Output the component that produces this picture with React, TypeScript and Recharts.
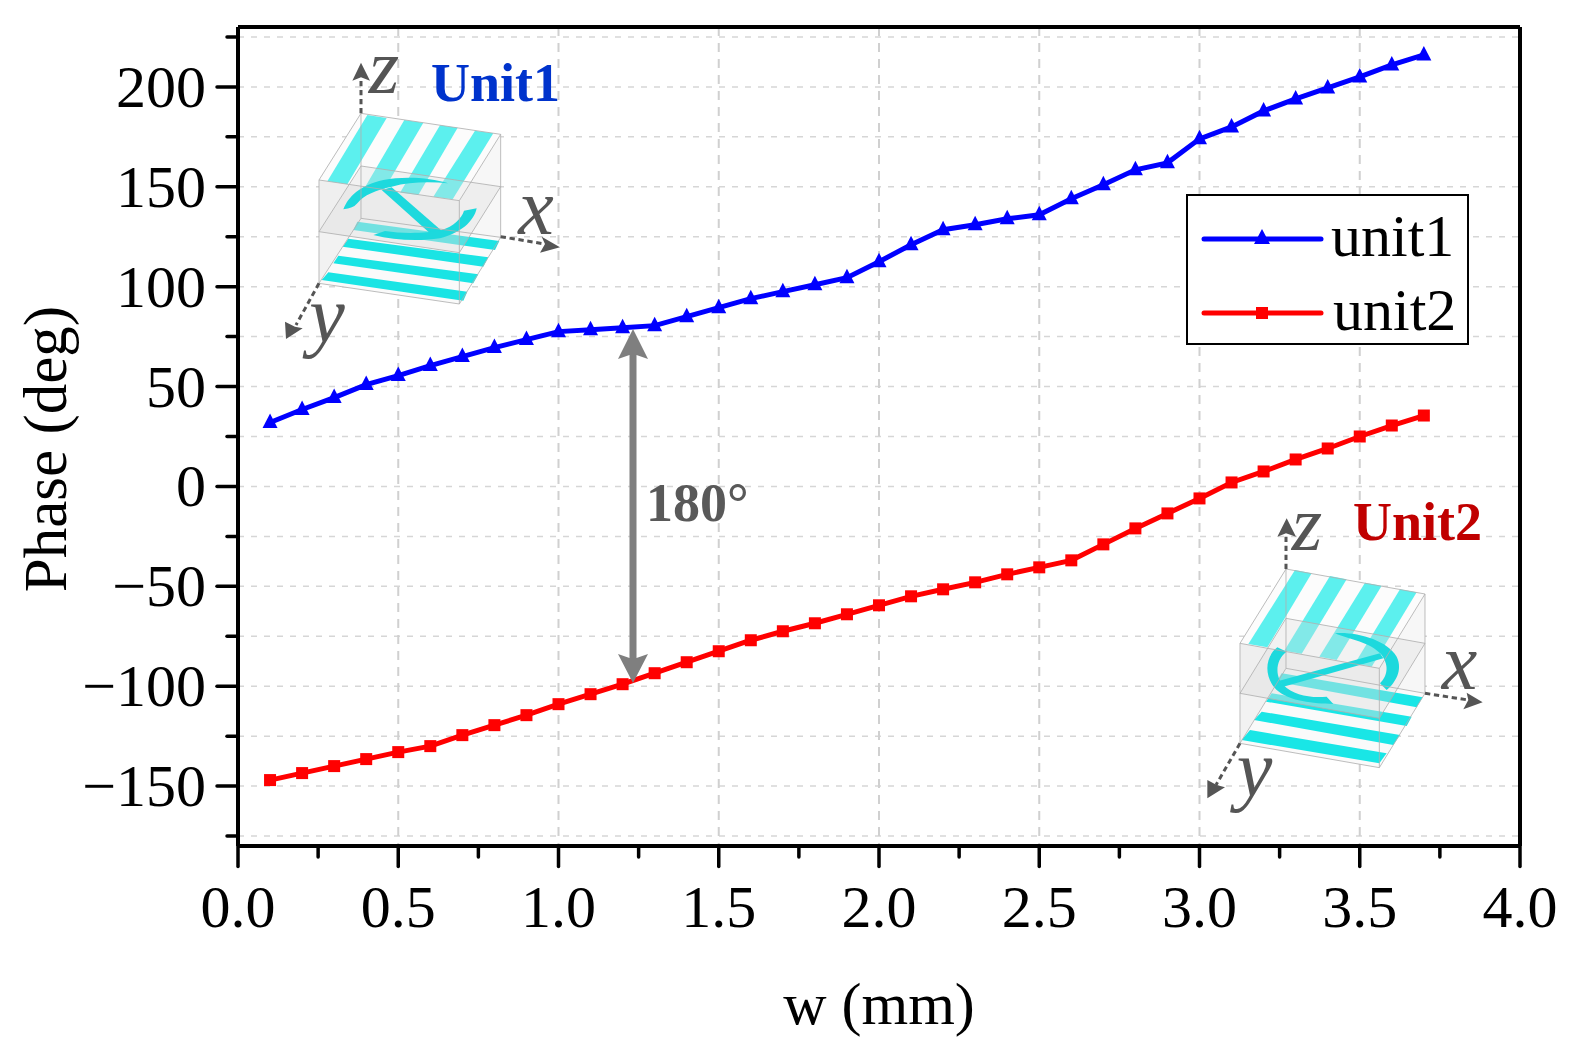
import React from 'react';
import { LineChart, Line, XAxis, YAxis, CartesianGrid, ReferenceLine, Legend } from 'recharts';

const widths = [0.1,0.2,0.3,0.4,0.5,0.6,0.7,0.8,0.9,1.0,1.1,1.2,1.3,1.4,1.5,1.6,1.7,1.8,1.9,2.0,2.1,2.2,2.3,2.4,2.5,2.6,2.7,2.8,2.9,3.0,3.1,3.2,3.3,3.4,3.5,3.6,3.7];
const unit1 = [32,38.5,44.5,51,55.5,60.5,65,69.5,73.5,77.5,78.5,79.5,80.5,85,89.5,94,97.5,101,104.5,112.5,121,128.5,131,134,136,144,151,158.5,162,174,180,188,194,199.5,205,211,216];
const unit2 = [-147,-143.5,-140,-136.5,-133,-130,-124.5,-119.5,-114.5,-109,-104,-99,-93.5,-88,-82.5,-77,-72.5,-68.5,-64,-59.5,-55,-51.5,-48,-44,-40.5,-37,-29,-21,-13.5,-6,2,7.5,13.5,19,25,30.5,35.5];
const xTicks = [0,0.25,0.5,0.75,1,1.25,1.5,1.75,2,2.25,2.5,2.75,3,3.25,3.5,3.75,4];
const xGrid = [0.5,1,1.5,2,2.5,3,3.5];
const yTicks = [-175,-150,-125,-100,-75,-50,-25,0,25,50,75,100,125,150,175,200,225];
const yMajor = [-150,-100,-50,0,50,100,150,200];
const legendNames = ['unit1', 'unit2'];

const rows = widths.map((w, i) => ({ w, unit1: unit1[i], unit2: unit2[i] }));
const FONT = '"Liberation Serif", serif';

const Tri = (p: any) => <polygon key={p.index} points={`${p.cx},${p.cy - 9} ${p.cx + 7.5},${p.cy + 5.5} ${p.cx - 7.5},${p.cy + 5.5}`} fill="#0000ff" />;
const Sq = (p: any) => <rect key={p.index} x={p.cx - 6} y={p.cy - 6} width={12} height={12} fill="#ff0000" />;

const XTick = (p: any) => {
  const v = p.payload.value;
  const major = Math.abs(v * 2 - Math.round(v * 2)) < 1e-6;
  return (
    <g>
      <line x1={p.x} x2={p.x} y1={846} y2={major ? 866.5 : 857} stroke="#000" strokeWidth={3.5} strokeLinecap="round" />
      {major && <text x={p.x} y={927} textAnchor="middle" fontFamily={FONT} fontSize={60} fill="#000">{v.toFixed(1)}</text>}
    </g>
  );
};

const YTick = (p: any) => {
  const v = p.payload.value;
  const major = yMajor.includes(v);
  return (
    <g>
      <line x1={238} x2={major ? 217 : 227} y1={p.y} y2={p.y} stroke="#000" strokeWidth={3.5} strokeLinecap="round" />
      {major && <text x={206} y={p.y + 20} textAnchor="end" fontFamily={FONT} fontSize={60} fill="#000">{v < 0 ? `\u2212${-v}` : v}</text>}
    </g>
  );
};

const LegendBox = () => (
  <svg width={283} height={151} style={{ display: 'block', background: '#fff', border: '2.5px solid #000', boxSizing: 'border-box' }}>
    {legendNames.map((n, i) => {
      const y = i === 0 ? 43 : 117;
      const c = i === 0 ? '#0000ff' : '#ff0000';
      return (
        <g key={n}>
          <line x1={16} x2={133} y1={y} y2={y} stroke={c} strokeWidth={5} strokeLinecap="round" />
          {i === 0 ? <polygon points={`74,${y - 10} 82,${y + 5} 66,${y + 5}`} fill={c} /> : <rect x={68} y={y - 6} width={12} height={12} fill={c} />}
          <text x={i === 0 ? 143 : 145} y={i === 0 ? 60 : 134} fontFamily={FONT} fontSize={60} fill="#000">{n}</text>
        </g>
      );
    })}
  </svg>
);

const Stripes = ({ list, fill }: { list: string[]; fill: string }) => (
  <>{list.map((s) => <polygon key={s} points={s} fill={fill} />)}</>
);

const AxisGlyphs = ({ lines, heads }: { lines: number[][]; heads: string[] }) => (
  <>
    {lines.map((l) => <line key={l.join()} x1={l[0]} y1={l[1]} x2={l[2]} y2={l[3]} stroke="#555" strokeWidth={9} strokeDasharray="16 11" />)}
    {heads.map((h) => <polygon key={h} points={h} fill="#555" />)}
  </>
);

const Glyph = ({ x, y, size, t }: { x: number; y: number; size: number; t: string }) => (
  <text x={x} y={y} fontFamily={FONT} fontStyle="italic" fontSize={size} fill="#555">{t}</text>
);

const boxEdge = '#b0b0b0';

const Inset1 = () => (
  <g transform="translate(270,40) scale(0.33333)">
    <polygon points="273,220 692,283 692,592 273,535" fill="#f7f7f7" />
    <polygon points="273,220 147,420 147,730 273,535" fill="#f2f2f2" />
    <polygon points="273,220 692,283 568,482 147,420" fill="#fcfcfc" />
    <Stripes fill="#5cf0ee" list={['292,225 350,234 232,433 172,424', '403,240 460,248 342,449 285,442', '510,256 563,263 445,465 390,458', '615,272 670,280 548,478 490,470']} />
    <polygon points="147,730 273,535 692,592 568,792" fill="#fafafa" />
    <Stripes fill="#1ae4e4" list={['175,697 155,720 580,782 592,755', '205,647 190,670 610,730 625,703', '235,596 218,620 640,680 655,652', '262,545 250,570 675,630 688,603']} />
    <polygon points="147,420 568,482 568,638 147,575" fill="#e2e2e2" opacity={0.22} />
    <polygon points="147,575 273,378 692,440 568,638" fill="#dcdcdc" opacity={0.3} />
    <path d="M220,508 C235,470 270,435 340,420 C400,408 480,412 535,430 C480,425 420,425 365,440 C320,450 280,465 262,490 Q250,505 220,508 Z" fill="#1dd9dd" />
    <polygon points="335,450 365,442 515,572 480,580" fill="#1dd9dd" />
    <path d="M620,505 C612,545 570,580 510,595 C440,605 370,600 310,585 L345,573 C400,582 470,580 515,570 C550,560 575,535 582,512 Z" fill="#1dd9dd" />
    <g fill="none" stroke={boxEdge} strokeWidth={2.5}>
      <polygon points="273,220 692,283 568,482 147,420" />
      <polygon points="147,575 273,378 692,440 568,638" />
      <polygon points="147,730 273,535 692,592 568,792" />
      <line x1={147} y1={420} x2={147} y2={730} />
      <line x1={568} y1={482} x2={568} y2={792} />
      <line x1={692} y1={283} x2={692} y2={592} />
      <line x1={273} y1={220} x2={273} y2={535} />
    </g>
    <AxisGlyphs
      lines={[[273, 220, 273, 115], [692, 590, 825, 612], [147, 730, 78, 855]]}
      heads={['273,68 247,122 273,112 300,122', '870,622 810,638 825,612 815,590', '48,897 45,845 75,860 98,865']}
    />
    <Glyph x={296} y={160} size={235} t="z" />
    <Glyph x={745} y={582} size={240} t="x" />
    <Glyph x={118} y={905} size={240} t="y" />
  </g>
);

const Inset2 = () => (
  <g transform="translate(1190,490) scale(0.33333)">
    <polygon points="288,237 705,312 705,610 288,535" fill="#f7f7f7" />
    <polygon points="288,237 150,460 150,760 288,535" fill="#f2f2f2" />
    <polygon points="288,237 705,312 568,535 150,460" fill="#fcfcfc" />
    <Stripes fill="#5cf0ee" list={['315,240 365,250 232,472 175,462', '420,258 470,268 335,491 283,482', '525,278 575,287 440,510 388,500', '630,298 680,307 545,530 495,520']} />
    <polygon points="150,760 288,535 705,610 568,833" fill="#fafafa" />
    <Stripes fill="#19e6e6" list={['180,720 155,750 568,820 590,790', '215,665 192,690 610,765 630,735', '245,610 228,635 650,708 665,680', '275,550 260,575 680,652 698,622']} />
    <polygon points="150,460 568,535 568,685 150,610" fill="#e2e2e2" opacity={0.22} />
    <polygon points="150,610 288,385 705,460 568,685" fill="#dcdcdc" opacity={0.3} />
    <path d="M262,472 C225,500 220,560 260,600 C300,635 370,640 430,642 L410,620 C360,625 310,615 280,585 C255,560 255,510 290,485 Z" fill="#1dd9dd" />
    <polygon points="268,572 570,490 580,505 280,590" fill="#1dd9dd" />
    <path d="M435,430 C500,425 590,450 620,500 C640,540 615,580 590,600 L570,580 C590,560 600,530 575,495 C540,455 480,450 435,430 Z" fill="#1dd9dd" />
    <g fill="none" stroke={boxEdge} strokeWidth={2.5}>
      <polygon points="288,237 705,312 568,535 150,460" />
      <polygon points="150,610 288,385 705,460 568,685" />
      <polygon points="150,760 288,535 705,610 568,833" />
      <line x1={150} y1={460} x2={150} y2={760} />
      <line x1={568} y1={535} x2={568} y2={833} />
      <line x1={705} y1={312} x2={705} y2={610} />
      <line x1={288} y1={237} x2={288} y2={535} />
    </g>
    <AxisGlyphs
      lines={[[288, 237, 288, 130], [705, 610, 835, 630], [150, 760, 78, 885]]}
      heads={['290,85 262,140 288,130 318,140', '878,637 820,658 835,630 830,608', '52,925 52,870 80,885 105,892']}
    />
    <Glyph x={305} y={180} size={235} t="z" />
    <Glyph x={755} y={597} size={240} t="x" />
    <Glyph x={140} y={918} size={240} t="y" />
  </g>
);

export default function App() {
  return (
    <div style={{ position: 'absolute', left: 0, top: 0, width: 1574, height: 1059, background: '#fff' }}>
      <LineChart width={1574} height={1059} data={rows} margin={{ top: 27, right: 54, bottom: 0, left: 0 }}>
        <CartesianGrid horizontal={true} vertical={false} horizontalValues={yTicks} stroke="#d6d6d6" strokeWidth={1.5} strokeDasharray="6 7" />
        <CartesianGrid horizontal={false} vertical={true} verticalValues={xGrid} stroke="#d0d0d0" strokeWidth={2} strokeDasharray="9 7" />
        <XAxis
          dataKey="w" type="number" domain={[0, 4]} ticks={xTicks} interval={0} height={213}
          axisLine={{ stroke: '#000', strokeWidth: 4 }} tickLine={false} tickSize={0} tickMargin={0} tick={<XTick />}
          label={{ content: () => <text x={879} y={1024} textAnchor="middle" fontFamily={FONT} fontSize={60} fill="#000">w (mm)</text> }}
        />
        <YAxis
          type="number" domain={[-180, 230]} ticks={yTicks} interval={0} width={238}
          axisLine={{ stroke: '#000', strokeWidth: 4 }} tickLine={false} tickSize={0} tickMargin={0} tick={<YTick />}
          label={{ content: () => <text transform="translate(66,449) rotate(-90)" textAnchor="middle" fontFamily={FONT} fontSize={61} fill="#000">Phase (deg)</text> }}
        />
        <ReferenceLine y={230} stroke="#000" strokeWidth={4} />
        <ReferenceLine x={4} stroke="#000" strokeWidth={4} />
        <Line dataKey="unit1" name="unit1" stroke="#0000ff" strokeWidth={5} dot={Tri} isAnimationActive={false} />
        <Line dataKey="unit2" name="unit2" stroke="#ff0000" strokeWidth={5} dot={Sq} isAnimationActive={false} />
        <Legend
          layout="vertical" align="center" verticalAlign="middle" content={() => <LegendBox />}
          wrapperStyle={{ position: 'absolute', left: 1186, top: 194, width: 283, height: 151, bottom: 'auto', right: 'auto' }}
        />
      </LineChart>
      <svg width={1574} height={1059} style={{ position: 'absolute', left: 0, top: 0, pointerEvents: 'none' }}>
        <Inset1 />
        <Inset2 />
        <polygon points="633,329 648,359 636.5,355 636.5,658 648,654 633,683 618,654 629.5,658 629.5,355 618,359" fill="#7f7f7f" />
        <text x={646} y={521} fontFamily={FONT} fontWeight="bold" fontSize={54} fill="#595959">180°</text>
        <text x={431} y={101} fontFamily={FONT} fontWeight="bold" fontSize={54} fill="#0033cc">Unit1</text>
        <text x={1353} y={540} fontFamily={FONT} fontWeight="bold" fontSize={54} fill="#c00000">Unit2</text>
      </svg>
    </div>
  );
}
